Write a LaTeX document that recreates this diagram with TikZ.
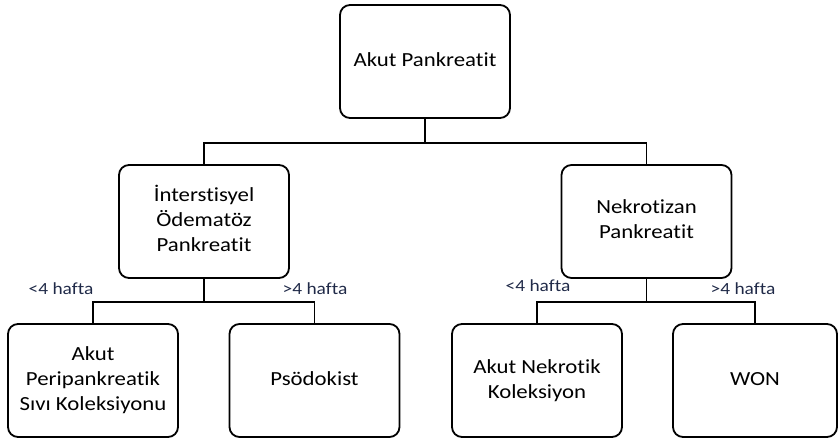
\documentclass[tikz,border=0pt]{standalone}
\usepackage{fontspec}
\setmainfont{Carlito}[Ligatures=NoCommon]
\usetikzlibrary{positioning}
\definecolor{etiket}{RGB}{32,42,72}
\newcommand{\yazi}[1]{\scalebox{1.14}[1]{\begin{tabular}{@{}c@{}}#1\end{tabular}}}

\begin{document}
\begin{tikzpicture}[x=1pt,y=-1pt,
	kutu/.style={draw,line width=1.8pt,rounded corners=10pt,minimum width=170pt,minimum height=113pt,align=center,font=\fontsize{20}{25}\selectfont,inner sep=2pt},
	baglanti/.style={line width=1.8pt},
	sure/.style={text=etiket,font=\fontsize{17}{20}\selectfont,inner sep=0pt}]
	\useasboundingbox (0,0) rectangle (838,438);

	\node[kutu] (akut) at (425,61.5) {\yazi{Akut Pankreatit}};
	\node[kutu] (inter) at (204,221.5) {\yazi{İnterstisyel\\Ödematöz\\Pankreatit}};
	\node[kutu] (nekro) at (646.5,221.5) {\yazi{Nekrotizan\\Pankreatit}};
	\node[kutu] (sivi) at (93,380.5) {\yazi{Akut\\Peripankreatik\\Sıvı Koleksiyonu}};
	\node[kutu] (psodo) at (314.5,380.5) {\yazi{Psödokist}};
	\node[kutu] (ank) at (537,380.5) {\yazi{Akut Nekrotik\\Koleksiyon}};
	\node[kutu,minimum width=164pt] (won) at (755,380.5) {\yazi{WON}};

	\coordinate (d1) at (425,143);
	\coordinate (d2) at (204,302);
	\coordinate (d3) at (646.5,302);

	\draw[baglanti] (akut.south) -- (d1);
	\draw[baglanti] (d1) -| (inter.north);
	\draw[baglanti] (d1) -| (nekro.north);

	\draw[baglanti] (inter.south) -- (d2);
	\draw[baglanti] (d2) -| (sivi.north);
	\draw[baglanti] (d2) -| (psodo.north);

	\draw[baglanti] (nekro.south) -- (d3);
	\draw[baglanti] (d3) -| (ank.north);
	\draw[baglanti] (d3) -| (won.north);

	\node[sure] (s1) at (61,291) {\yazi{<4 hafta}};
	\node[sure] (s2) at (315,291) {\yazi{>4 hafta}};
	\node[sure] (s3) at (538,288) {\yazi{<4 hafta}};
	\node[sure] (s4) at (743,291) {\yazi{>4 hafta}};
\end{tikzpicture}
\end{document}
